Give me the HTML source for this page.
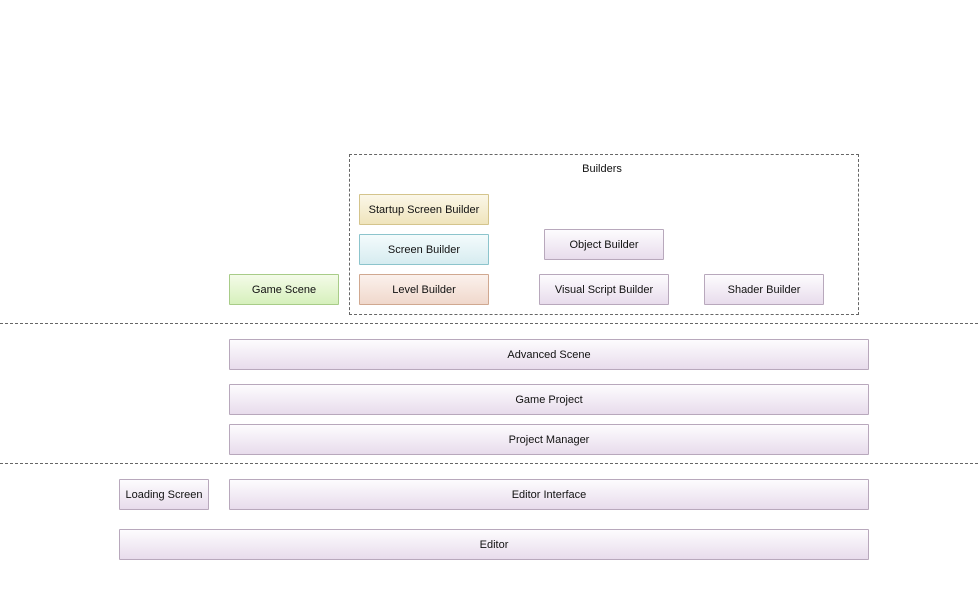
<!DOCTYPE html>
<html><head><meta charset="utf-8"><style>
body{margin:0;width:978px;height:598px;background:#fff;position:relative;overflow:hidden;font-family:"Liberation Sans",sans-serif;font-size:11px;color:#111}
.b{position:absolute;box-sizing:border-box;display:flex;align-items:center;justify-content:center;border:1px solid #b8a8bc;border-radius:1px;background:linear-gradient(#fdfcfe,#e8dcec)}
.y{border-color:#d4c48c;background:linear-gradient(#fbf7e8,#efe4bc)}
.c{border-color:#8cc4cc;background:linear-gradient(#f4fbfc,#d6ecf0)}
.o{border-color:#d0a890;background:linear-gradient(#fbf1ec,#f0d8cc)}
.g{border-color:#a8cc88;background:linear-gradient(#f4fbe8,#d6f0bc)}
.h{position:absolute;left:0;width:978px;border-top:1px dashed #666}
</style></head><body>
<div style="position:absolute;left:349px;top:154px;width:510px;height:161px;box-sizing:border-box;border:1px dashed #666"></div>
<div style="position:absolute;left:347px;top:163px;width:510px;text-align:center">Builders</div>
<div class="b y" style="left:359px;top:194px;width:130px;height:31px">Startup Screen Builder</div>
<div class="b c" style="left:359px;top:234px;width:130px;height:31px">Screen Builder</div>
<div class="b o" style="left:359px;top:274px;width:130px;height:31px">Level Builder</div>
<div class="b g" style="left:229px;top:274px;width:110px;height:31px">Game Scene</div>
<div class="b" style="left:544px;top:229px;width:120px;height:31px">Object Builder</div>
<div class="b" style="left:539px;top:274px;width:130px;height:31px">Visual Script Builder</div>
<div class="b" style="left:704px;top:274px;width:120px;height:31px">Shader Builder</div>
<div class="h" style="top:323px"></div>
<div class="b" style="left:229px;top:339px;width:640px;height:31px">Advanced Scene</div>
<div class="b" style="left:229px;top:384px;width:640px;height:31px">Game Project</div>
<div class="b" style="left:229px;top:424px;width:640px;height:31px">Project Manager</div>
<div class="h" style="top:463px"></div>
<div class="b" style="left:119px;top:479px;width:90px;height:31px">Loading Screen</div>
<div class="b" style="left:229px;top:479px;width:640px;height:31px">Editor Interface</div>
<div class="b" style="left:119px;top:529px;width:750px;height:31px">Editor</div>
</body></html>
